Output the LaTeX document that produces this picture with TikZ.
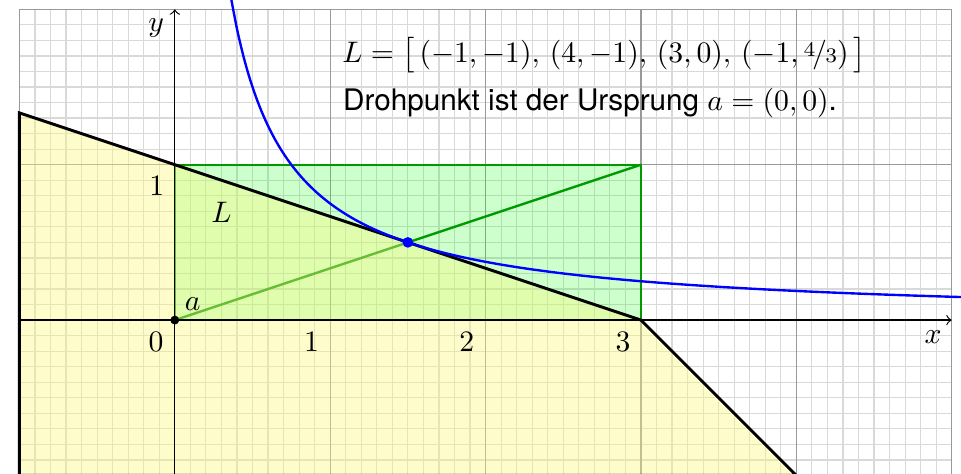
\documentclass[tikz,border=0pt]{standalone}
\usepackage{fontspec,amsmath,nicefrac}
\setsansfont{TeX Gyre Heros}

\begin{document}
\begin{tikzpicture}[x=1.84cm,y=1.84cm,
  gridfine/.style={gray!30,line width=0.4pt},
  gridmajor/.style={gray!80,line width=0.4pt},
  rectline/.style={green!60!black,thick},
  lbl/.style={anchor=base,inner sep=0pt}]
\path[use as bounding box] (-1.125,-0.985) rectangle (5.06,2.06);
\draw[gridfine,step=0.1] (-1,-1) grid (5,2);
\draw[gridmajor,step=1] (-1,-1) grid (5,2);
\draw[rectline,fill=green,fill opacity=0.2] (0,0) rectangle (3,1);
\draw[rectline] (0,0) -- (3,1);
\draw[line width=1pt,fill=yellow!50,fill opacity=0.4] (-1,-1) -- (-1,4/3) -- (3,0) -- (4,-1) -- cycle;
\draw[->] (-1,0) -- (5,0);
\draw[->] (0,-1) -- (0,2);
\draw[blue,thick,domain=0.36:5.1,samples=120,smooth] plot (\x,{0.75/\x});
\fill (0,0) circle (1.5pt);
\fill[blue] (1.5,0.5) circle (1.8pt);
\node[lbl] (lblx) at (4.88,-0.148) {$x$};
\node[lbl] (lbly) at (-0.12,1.855) {$y$};
\node[lbl] (lblzero) at (-0.12,-0.2) {$0$};
\node[lbl] (tickxone) at (0.88,-0.2) {$1$};
\node[lbl] (tickxtwo) at (1.88,-0.2) {$2$};
\node[lbl] (tickxthree) at (2.885,-0.2) {$3$};
\node[lbl] (tickyone) at (-0.116,0.805) {$1$};
\node[lbl] (lblL) at (0.30,0.63) {$L$};
\node[lbl] (lbla) at (0.116,0.064) {$a$};
\node[anchor=base west,inner sep=0pt] (lstline) at (1.075,1.655) {$L=\bigl[\,(-1,-1),\,(4,-1),\,(3,0),\,(-1,\nicefrac{4}{3})\,\bigr]$};
\node[anchor=base west,inner sep=0pt,font=\sffamily] (drohline) at (1.08,1.352) {Drohpunkt ist der Ursprung $a=(0,0)$.};
\end{tikzpicture}
\end{document}
